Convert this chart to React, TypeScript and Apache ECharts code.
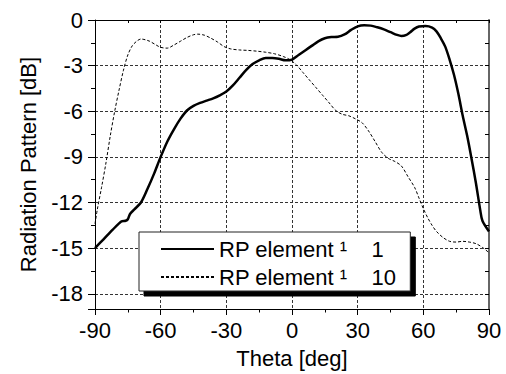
import React, { useEffect, useRef } from 'react';
import * as echarts from 'echarts';

// Theta [deg] / Radiation Pattern [dB], RP element 1 (solid)
const theta1 = [-90, -86, -82, -78, -76, -75, -74, -72, -69, -66, -63, -60, -57, -54, -51, -48, -45, -42, -39, -36, -33, -30, -27, -24, -21, -18, -15, -12, -9, -6, -3, 0, 3, 6, 9, 12, 15, 18, 21, 24, 27, 30, 33, 36, 39, 42, 45, 48, 50, 52, 54, 56, 58, 61, 64, 66, 68, 70, 72, 74, 76, 78, 80, 82, 84, 86, 87, 90];
const rp1 = [-15.0, -14.4, -13.8, -13.25, -13.2, -13.1, -12.75, -12.45, -12.0, -11.1, -10.1, -9.0, -8.0, -7.2, -6.5, -5.95, -5.65, -5.45, -5.3, -5.15, -4.95, -4.7, -4.3, -3.8, -3.3, -2.9, -2.65, -2.5, -2.5, -2.55, -2.65, -2.6, -2.3, -2.0, -1.7, -1.4, -1.2, -1.12, -1.1, -0.95, -0.65, -0.42, -0.35, -0.37, -0.48, -0.62, -0.8, -0.98, -1.05, -1.0, -0.8, -0.57, -0.43, -0.4, -0.5, -0.75, -1.2, -1.75, -2.6, -3.6, -4.85, -6.3, -7.6, -9.1, -10.7, -12.5, -13.2, -13.9];

// RP element 10 (dashed)
const theta10 = [-90, -89, -87, -85, -83, -81, -79, -77, -75, -73, -71, -69, -67, -65, -62, -60, -57, -54, -51, -48, -45, -43, -40, -37, -34, -31, -28, -24, -20, -16, -12, -8, -4, -1, 2, 5, 8, 11, 14, 17, 20, 23, 26, 29, 32, 35, 38, 41, 44, 47, 50, 53, 56, 58, 60, 62, 64, 66, 69, 72, 75, 78, 81, 84, 87, 90];
const rp10 = [-13.4, -12.5, -11.0, -9.4, -7.6, -6.0, -4.6, -3.3, -2.3, -1.7, -1.4, -1.25, -1.3, -1.4, -1.65, -1.8, -1.85, -1.65, -1.4, -1.15, -0.97, -0.93, -1.0, -1.2, -1.45, -1.75, -1.9, -1.97, -2.0, -2.05, -2.12, -2.22, -2.4, -2.6, -2.95, -3.45, -3.95, -4.45, -4.95, -5.45, -5.95, -6.2, -6.3, -6.5, -6.75, -7.3, -8.0, -8.7, -9.1, -9.3, -9.6, -10.3, -11.0, -11.7, -12.4, -13.0, -13.5, -13.9, -14.3, -14.55, -14.6, -14.55, -14.6, -14.7, -14.95, -15.3];

const seriesNames = ['RP element ¹    1', 'RP element ¹    10'];
const xTickValues = [-90, -60, -30, 0, 30, 60, 90];
const yTickValues = [0, -3, -6, -9, -12, -15, -18];
const xTitle = 'Theta [deg]';
const yTitle = 'Radiation Pattern [dB]';
const yBottom = -19;

const FONT = "'Liberation Sans', Arial, sans-serif";
const FS = 22;

function buildOption(): echarts.EChartsOption {
  const xMin = xTickValues[0];
  const xMax = xTickValues[xTickValues.length - 1];
  const xStep = xTickValues[1] - xTickValues[0];
  const yStep = Math.abs(yTickValues[1] - yTickValues[0]);
  // y axis is plotted as attenuation (inverse axis) so that ticks start at 0
  const yMin = -yTickValues[0];
  const yMax = -yBottom;
  const yLabel = (v: number) => {
    const r = Math.round(v * 1000) / 1000;
    if (r % yStep !== 0) return '';
    return r === 0 ? '0' : String(-r);
  };
  const black = '#000';
  const gridLine = { show: true, lineStyle: { color: '#333', width: 1, type: [3, 2] as number[] } };
  return {
    animation: false,
    backgroundColor: '#fff',
    grid: { left: 95, right: 17, top: 20, bottom: 64, containLabel: false },
    xAxis: [
      {
        type: 'value',
        position: 'bottom',
        min: xMin,
        max: xMax,
        interval: xStep,
        name: xTitle,
        nameLocation: 'middle',
        nameGap: 38,
        nameTextStyle: { fontSize: FS, color: black, fontFamily: FONT },
        axisLine: { show: true, onZero: false, lineStyle: { color: black, width: 1 } },
        axisTick: { show: true, inside: false, length: 6, lineStyle: { color: black } },
        minorTick: { show: true, splitNumber: 2, length: 3.5, lineStyle: { color: black } },
        axisLabel: { fontSize: FS, color: black, fontFamily: FONT, margin: 10 },
        splitLine: gridLine,
      },
      {
        type: 'value',
        position: 'top',
        min: xMin,
        max: xMax,
        interval: xStep,
        axisLine: { show: true, onZero: false, lineStyle: { color: black, width: 1 } },
        axisTick: { show: true, inside: true, length: 3, lineStyle: { color: black } },
        minorTick: { show: true, splitNumber: 2, length: 3, lineStyle: { color: black } },
        axisLabel: { show: false },
        splitLine: { show: false },
      },
    ],
    yAxis: [
      {
        type: 'value',
        position: 'left',
        inverse: true,
        min: yMin,
        max: yMax,
        interval: yStep,
        name: yTitle,
        nameLocation: 'middle',
        nameGap: 56,
        nameRotate: 90,
        nameTextStyle: { fontSize: FS, color: black, fontFamily: FONT },
        axisLine: { show: true, onZero: false, lineStyle: { color: black, width: 1 } },
        axisTick: { show: true, inside: false, length: 7, lineStyle: { color: black } },
        minorTick: { show: true, splitNumber: 2, length: 4, lineStyle: { color: black } },
        axisLabel: { fontSize: FS, color: black, fontFamily: FONT, margin: 12, formatter: yLabel },
        splitLine: gridLine,
      },
      {
        type: 'value',
        position: 'right',
        inverse: true,
        min: yMin,
        max: yMax,
        interval: yStep,
        axisLine: { show: true, onZero: false, lineStyle: { color: '#666', width: 2 } },
        axisTick: { show: true, inside: true, length: 4, lineStyle: { color: black } },
        minorTick: { show: true, splitNumber: 2, length: 4, lineStyle: { color: black } },
        axisLabel: { show: false },
        splitLine: { show: false },
      },
    ],
    legend: {
      show: true,
      left: 139,
      top: 232,
      orient: 'vertical',
      itemWidth: 53,
      itemHeight: 14,
      itemGap: 6,
      padding: [6, 14, 3, 21],
      backgroundColor: '#fff',
      borderColor: '#222',
      borderWidth: 1,
      borderRadius: 0,
      shadowColor: '#000',
      shadowBlur: 0,
      shadowOffsetX: 5,
      shadowOffsetY: 5,
      itemStyle: { opacity: 0, color: 'transparent', borderWidth: 0 },
      textStyle: { fontSize: FS, color: black, fontFamily: FONT, lineHeight: 22 },
      data: seriesNames,
      selectedMode: false,
    },
    series: [
      {
        type: 'line',
        name: seriesNames[0],
        xAxisIndex: 0,
        yAxisIndex: 0,
        data: theta1.map((t, i) => [t, -rp1[i]]),
        symbol: 'none',
        showSymbol: false,
        smooth: 0.3,
        lineStyle: { color: black, width: 2.5 },
        itemStyle: { color: black },
        z: 4,
      },
      {
        type: 'line',
        name: seriesNames[1],
        xAxisIndex: 0,
        yAxisIndex: 0,
        data: theta10.map((t, i) => [t, -rp10[i]]),
        symbol: 'none',
        showSymbol: false,
        smooth: 0.3,
        lineStyle: { color: black, width: 1, type: [3, 2] },
        itemStyle: { color: black },
        z: 3,
      },
    ],
  };
}

export default function App() {
  const ref = useRef<HTMLDivElement>(null);
  useEffect(() => {
    if (!ref.current) return;
    const chart = echarts.init(ref.current, undefined, { renderer: 'svg' });
    chart.setOption(buildOption());
    return () => chart.dispose();
  }, []);
  return (
    <div
      ref={ref}
      style={{ position: 'fixed', left: 0, top: 0, width: 506, height: 374, background: '#fff' }}
    />
  );
}
